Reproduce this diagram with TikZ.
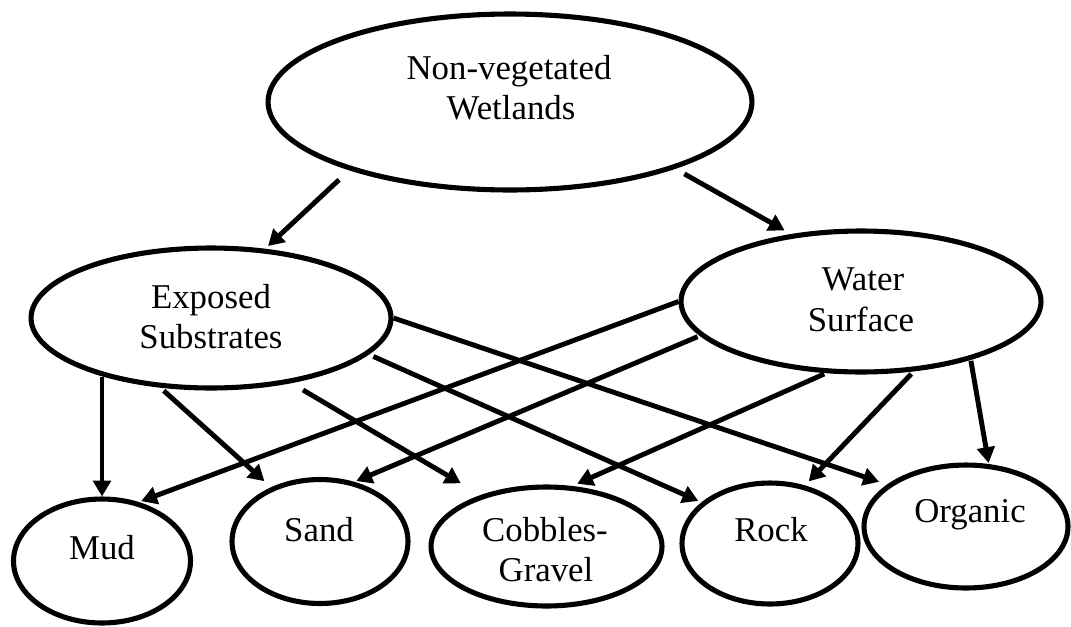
\documentclass[tikz,border=0pt]{standalone}
\usepackage{fontspec}
\setmainfont{Liberation Serif}
\usetikzlibrary{arrows.meta,shapes.geometric,calc}
\begin{document}
\begin{tikzpicture}[x=0.02cm,y=-0.02cm,
  ell/.style={draw, ellipse, line width=2.9pt, inner sep=0pt},
  lbl/.style={anchor=base, inner sep=0pt, font=\fontsize{19.8}{22.7}\selectfont},
  arr/.style={line width=2.8pt, -{Triangle[length=9pt,width=10pt]}}]
\useasboundingbox (0,0) rectangle (1071,626);

% ellipses
\node[ell, minimum width=9.68cm, minimum height=3.52cm] (top) at (510,102) {};
\node[ell, minimum width=7.2cm, minimum height=2.8cm] (exp) at (211,318) {};
\node[ell, minimum width=7.2cm, minimum height=2.82cm] (wat) at (861,301.5) {};
\node[ell, minimum width=3.54cm, minimum height=2.48cm] (mud) at (102,561) {};
\node[ell, minimum width=3.52cm, minimum height=2.48cm] (sand) at (320,541.5) {};
\node[ell, minimum width=4.62cm, minimum height=2.38cm] (cob) at (546.5,546.5) {};
\node[ell, minimum width=3.52cm, minimum height=2.42cm] (rock) at (770,543.5) {};
\node[ell, minimum width=4.08cm, minimum height=2.46cm] (org) at (966,526.5) {};

% labels
\node[lbl] (topA) at (509,79) {Non-vegetated};
\node[lbl] (topB) at (511,119) {Wetlands};
\node[lbl] (expA) at (211,308) {Exposed};
\node[lbl] (expB) at (211,348) {Substrates};
\node[lbl] (watA) at (863,290) {Water};
\node[lbl] (watB) at (861,331) {Surface};
\node[lbl] (mudA) at (102,559) {Mud};
\node[lbl] (sandA) at (319,541) {Sand};
\node[lbl] (cobA) at (545,541) {Cobbles-};
\node[lbl] (cobB) at (546,581) {Gravel};
\node[lbl] (rockA) at (771,541) {Rock};
\node[lbl] (orgA) at (970,522) {Organic};

% connectors
\draw[arr, shorten <=0.28cm, shorten >=0.08cm] (top.203) -- (exp.52);
\draw[arr, shorten <=0.21cm, shorten >=0.15cm] (top.338) -- (wat.136);
\draw[arr] (mud.north |- exp.209) -- (mud.north);
\draw[arr, shorten <=0.09cm, shorten >=0.18cm] (exp.234) -- (sand.132);
\draw[arr, shorten <=0.27cm, shorten >=0.46cm] (exp.321) -- (cob.142);
\draw[arr, shorten <=0.1cm, shorten >=0.07cm] (exp.347) -- (rock.149);
\draw[arr, shorten >=0.17cm] (exp.0) -- (org.152);
\draw[arr, shorten >=0.05cm] (wat.180) -- (mud.58);
\draw[arr, shorten <=0.05cm, shorten >=0.04cm] (wat.192) -- (sand.60);
\draw[arr, shorten <=0.04cm, shorten >=0.11cm] (wat.244) -- (cob.67);
\draw[arr, shorten <=0.07cm, shorten >=0.11cm] (wat.307) -- (rock.59);
\draw[arr, shorten <=0.02cm, shorten >=0.02cm] (wat.332) -- (org.70);
\end{tikzpicture}
\end{document}
